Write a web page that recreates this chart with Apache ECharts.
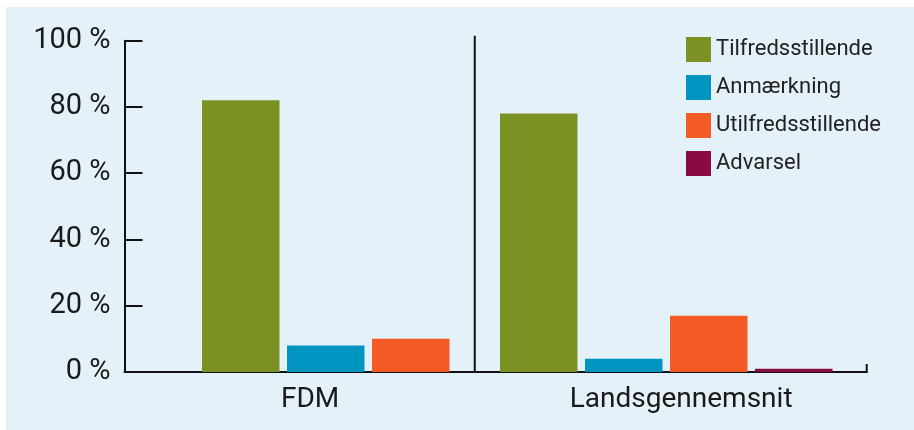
<!DOCTYPE html>
<html>
<head>
<meta charset="utf-8">
<script src="https://cdn.jsdelivr.net/npm/echarts@6/dist/echarts.min.js"></script>
<style>
  html, body { margin: 0; padding: 0; background: #ffffff; }
  #chart {
    position: absolute;
    left: 6px;
    top: 7px;
    width: 908px;
    height: 423px;
    background: #e5f1f8;
  }
</style>
</head>
<body>
<div id="chart"></div>
<script>
// data
const categories = ['FDM', 'Landsgennemsnit']
const seriesNames = ['Tilfredsstillende', 'Anmærkning', 'Utilfredsstillende', 'Advarsel']
const tilfredsstillende = [82, 78]
const anmaerkning = [8, 4]
const utilfredsstillende = [10, 17]
const advarsel = [null, 1]
const yTicks = [0, 20, 40, 60, 80, 100]

const colors = ['#7b9123', '#0094c1', '#f25b24', '#8a0b43']
const values = [tilfredsstillende, anmaerkning, utilfredsstillende, advarsel]

// layout (chart coordinates)
const axisLeft = 118.5
const axisRight = 47.3
const plotTop = 33.7
const plotBottom = 58
const chartW = 908
const chartH = 423
const barW = 77.5
const barStep = 85
const groupLeft = [196, 494]

const chart = echarts.init(document.getElementById('chart'))
const textColor = '#1a1a1a'
const fontFamily = 'Roboto'

const grids = [{ left: axisLeft, right: axisRight, top: plotTop, bottom: plotBottom }]
const xAxes = [{
  type: 'category',
  gridIndex: 0,
  data: categories,
  axisLine: { lineStyle: { color: '#111', width: 2 } },
  axisTick: { show: false },
  axisLabel: { color: textColor, fontFamily: fontFamily, fontSize: 28, margin: 14 }
}]
const yAxes = [{
  type: 'value',
  gridIndex: 0,
  min: yTicks[0],
  max: yTicks[yTicks.length - 1],
  interval: yTicks[1] - yTicks[0],
  splitLine: { show: false },
  axisLine: { show: true, lineStyle: { color: '#111', width: 2 } },
  axisTick: { show: true, inside: true, length: 18, lineStyle: { color: '#111', width: 2 } },
  axisLabel: { color: textColor, fontFamily: fontFamily, fontSize: 29, margin: 14, formatter: '{value} %' }
}]
const series = []
const groupWidths = []

// one hidden grid per category so each group can keep its own bar count
categories.forEach((cat, g) => {
  const idx = []
  values.forEach((v, s) => { if (v[g] !== null) idx.push(s) })
  const width = idx.length * barStep - (barStep - barW)
  groupWidths.push(width)
  const gi = g + 1
  grids.push({ left: groupLeft[g], width: width, top: plotTop, bottom: plotBottom })
  xAxes.push({ type: 'category', gridIndex: gi, data: [cat], show: false })
  yAxes.push({ type: 'value', gridIndex: gi, min: yTicks[0], max: yTicks[yTicks.length - 1], show: false })
  idx.forEach((s) => {
    series.push({
      name: seriesNames[s],
      type: 'bar',
      xAxisIndex: gi,
      yAxisIndex: gi,
      barCategoryGap: '0%',
      barGap: ((barStep - barW) / barW * 100).toFixed(2) + '%',
      data: [values[s][g]],
      itemStyle: { color: colors[s] },
      emphasis: { disabled: true }
    })
  })
})

const baseY = chartH - plotBottom
const dividerX = (groupLeft[0] + groupWidths[0] + groupLeft[1]) / 2
const endX = chartW - axisRight

const option = {
  animation: false,
  grid: grids,
  xAxis: xAxes,
  yAxis: yAxes,
  legend: {
    data: seriesNames,
    orient: 'vertical',
    left: 675,
    top: 25,
    itemWidth: 25,
    itemHeight: 25,
    itemGap: 13,
    icon: 'rect',
    textStyle: { color: '#222', fontFamily: fontFamily, fontSize: 22 }
  },
  graphic: [
    {
      type: 'line',
      shape: { x1: dividerX, y1: plotTop - 5, x2: dividerX, y2: baseY },
      style: { stroke: '#111', lineWidth: 2 }
    },
    {
      type: 'line',
      shape: { x1: endX, y1: baseY - 8, x2: endX, y2: baseY + 1 },
      style: { stroke: '#111', lineWidth: 2 }
    }
  ],
  series: series
}

chart.setOption(option)
</script>
</body>
</html>
